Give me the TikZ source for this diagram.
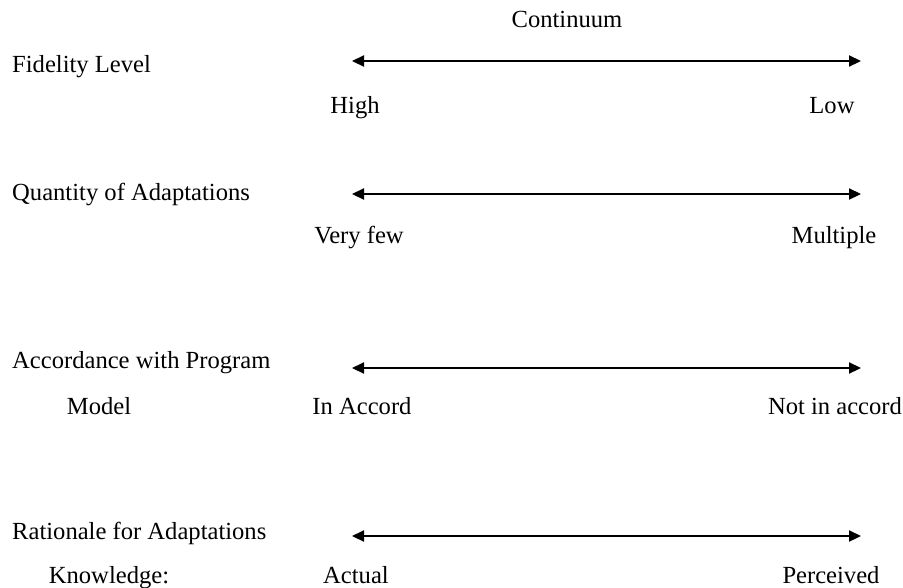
\documentclass[tikz,border=0pt]{standalone}
\usepackage{fontspec}
\setmainfont{Liberation Serif}
\usetikzlibrary{arrows.meta}

\begin{document}
\begin{tikzpicture}[x=1pt,y=-1pt,font=\fontsize{24.6}{28}\selectfont,
  txt/.style={anchor=base,inner sep=0pt},
  ltxt/.style={anchor=base west,inner sep=0pt},
  scale arrow/.style={line width=2.2pt,{Triangle[length=12pt,width=11pt]}-{Triangle[length=12pt,width=11pt]}}]
\useasboundingbox (0,0) rectangle (903,587);
\node[txt] (cont) at (567,27) {Continuum};
% the four scales
\foreach \y/\n in {61/fid,194/qty,368/acc,536/rat}{
\coordinate (\n l) at (352,\y);
\coordinate (\n r) at (861,\y);
\draw[scale arrow] (\n l) -- (\n r);
}
\node[ltxt] (fidlbl) at (12,72) {Fidelity Level};
\node[txt] (high) at (355,113) {High};
\node[txt] (low) at (832,113) {Low};
\node[ltxt] (qtylbl) at (12,200) {Quantity of Adaptations};
\node[txt] (few) at (359,243) {Very few};
\node[txt] (mult) at (834,243) {Multiple};
\node[ltxt] (acclbl) at (12,368) {Accordance with Program};
\node[txt] (model) at (99,414) {Model};
\node[txt] (inacc) at (362,414) {In Accord};
\node[txt] (notacc) at (835,414) {Not in accord};
\node[ltxt] (ratlbl) at (12,539) {Rationale for Adaptations};
\node[txt] (know) at (109,583) {Knowledge:};
\node[txt] (act) at (356,583) {Actual};
\node[txt] (perc) at (831,583) {Perceived};
\end{tikzpicture}
\end{document}
